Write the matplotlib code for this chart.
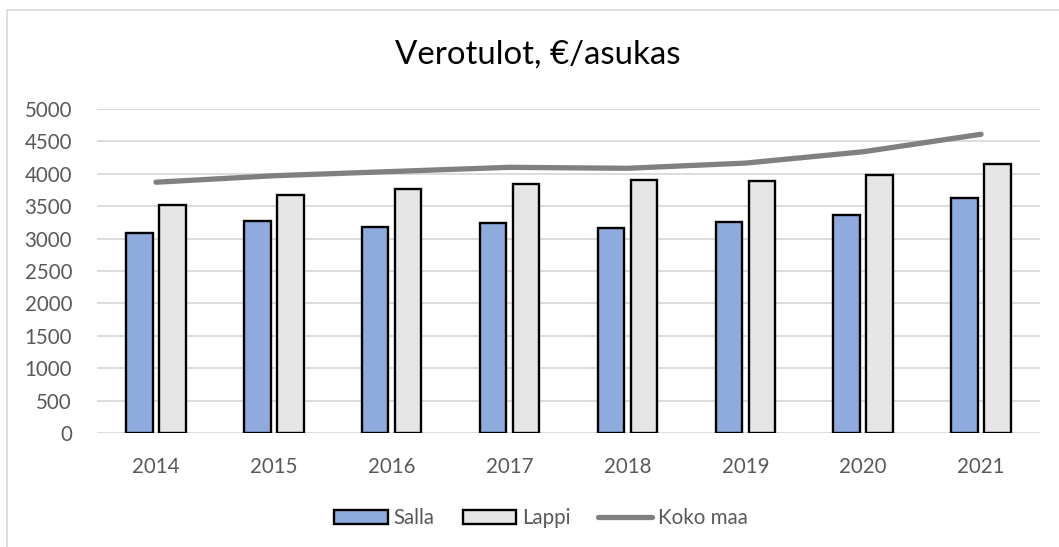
import numpy as np
import matplotlib
matplotlib.use('Agg')
import matplotlib.pyplot as plt
from matplotlib.patches import Rectangle, Patch
from matplotlib.lines import Line2D

# data
years = ['2014', '2015', '2016', '2017', '2018', '2019', '2020', '2021']
salla = [3085, 3275, 3175, 3240, 3160, 3260, 3365, 3630]
lappi = [3515, 3675, 3770, 3850, 3900, 3890, 3985, 4155]
koko_maa = [3870, 3970, 4035, 4100, 4085, 4165, 4340, 4610]
y_ticks = [0, 500, 1000, 1500, 2000, 2500, 3000, 3500, 4000, 4500, 5000]

plt.rcParams['font.family'] = ['Lato', 'DejaVu Sans']

W, H = 1059, 547
fig = plt.figure(figsize=(W / 100, H / 100), dpi=100)

# chart border (cropped at right/bottom in the reference)
fig.add_artist(Rectangle((7 / W, -0.1), 1.2, 1 - 10 / H + 0.1, transform=fig.transFigure,
                         fill=False, edgecolor='#D9D9D9', lw=1.2))

ax = fig.add_axes([97 / W, 1 - 433 / H, (1040 - 97) / W, (433 - 109) / H])
x = np.arange(len(years))

ax.bar(x - 0.14, salla, width=0.225, color='#8FAADC', edgecolor='black', linewidth=1.7, zorder=3)
ax.bar(x + 0.14, lappi, width=0.225, color='#E7E6E6', edgecolor='black', linewidth=1.7, zorder=3)
ax.plot(x, koko_maa, color='#808080', lw=3.8, solid_capstyle='round', zorder=4)

ax.set_xlim(-0.5, len(years) - 0.5)
ax.set_ylim(0, 5000)
ax.set_yticks(y_ticks)
ax.set_xticks(x)
ax.set_xticklabels(years)
ax.grid(axis='y', color='#D9D9D9', lw=1.3, zorder=0)
ax.set_axisbelow(True)
for s in ax.spines.values():
    s.set_visible(False)
ax.tick_params(axis='both', length=0, labelsize=14.8, labelcolor='#595959')
ax.tick_params(axis='y', pad=18)
ax.tick_params(axis='x', pad=17)

fig.text(538 / W, 1 - 55 / H, 'Verotulot, €/asukas', ha='center', va='center',
         fontsize=23.8, color='black')

handles = [Patch(facecolor='#8FAADC', edgecolor='black', lw=1.7, label='Salla'),
           Patch(facecolor='#E7E6E6', edgecolor='black', lw=1.7, label='Lappi'),
           Line2D([], [], color='#808080', lw=3.8, solid_capstyle='round', label='Koko maa')]
leg = fig.legend(handles=handles, loc='center', bbox_to_anchor=(541 / W, 1 - 518 / H), ncol=3,
                 frameon=False, fontsize=14.8, handlelength=2.6, handleheight=0.65,
                 handletextpad=0.3, columnspacing=1.35)
for t in leg.get_texts():
    t.set_color('#595959')

fig.savefig('out.png', dpi=100)
